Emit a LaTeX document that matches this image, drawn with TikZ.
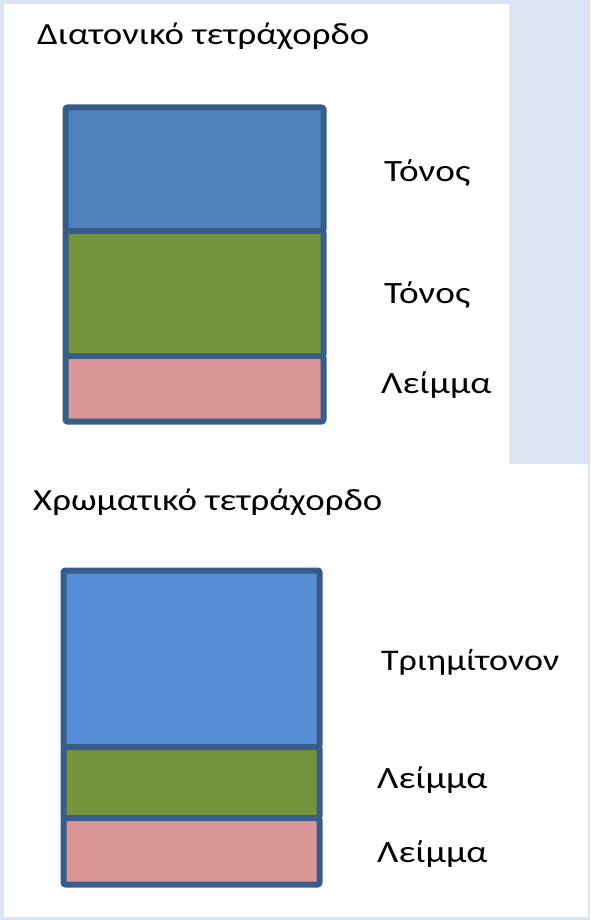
\documentclass[tikz,border=0pt]{standalone}
\usepackage{fontspec}
\setmainfont{Carlito}[FakeStretch=1.2]
\usetikzlibrary{positioning}
\definecolor{bgblue}{HTML}{DBE5F1}
\definecolor{edgeblue}{HTML}{385D8A}
\definecolor{tonblue}{HTML}{4F81BD}
\definecolor{triblue}{HTML}{558ED5}
\definecolor{tongreen}{HTML}{77933C}
\definecolor{leipink}{HTML}{D99694}
\tikzset{
    part/.style={rectangle,draw=edgeblue,line width=6pt,inner sep=0pt,outer sep=0pt,
        rounded corners=2pt},
    title/.style={anchor=base west,inner sep=0pt,font=\fontsize{30.7}{36}\selectfont},
    lbl/.style={anchor=base west,inner sep=0pt,font=\fontsize{31}{36}\selectfont}
}
\begin{document}
\begin{tikzpicture}[x=1pt,y=-1pt]
        \useasboundingbox (0,0) rectangle (590,920);
        \fill[bgblue] (0,0) rectangle (590,920);
        \fill[white] (4,4) rectangle (509,464);
        \fill[white] (4,464) rectangle (588,917);
        % diatonic
        \node[title] (dtitle) at (37,45) {Διατονικό τετράχορδο};
        \node[part,fill=tonblue,minimum width=258pt,minimum height=123.5pt,anchor=north west]
            (dton1) at (65.5,107.5) {};
        \node[part,fill=tongreen,minimum width=258pt,minimum height=125pt,below=0pt of dton1]
            (dton2) {};
        \node[part,fill=leipink,minimum width=258pt,minimum height=65.5pt,below=0pt of dton2]
            (dlei) {};
        \node[lbl] (ldton1) at (384,182) {Τόνος};
        \node[lbl] (ldton2) at (384,303) {Τόνος};
        \node[lbl] (ldlei) at (381,393) {Λείμμα};
        % chromatic
        \node[title] (ctitle) at (33,510) {Χρωματικό τετράχορδο};
        \node[part,fill=triblue,minimum width=256pt,minimum height=176.5pt,anchor=north west]
            (ctri) at (63.5,570.5) {};
        \node[part,fill=tongreen,minimum width=256pt,minimum height=71pt,below=0pt of ctri]
            (clei1) {};
        \node[part,fill=leipink,minimum width=256pt,minimum height=66.5pt,below=0pt of clei1]
            (clei2) {};
        \node[lbl,font=\fontsize{30}{36}\selectfont] (lctri) at (381,670) {Τριημίτονον};
        \node[lbl] (lclei1) at (377,788) {Λείμμα};
        \node[lbl] (lclei2) at (377,862) {Λείμμα};
    \end{tikzpicture}
\end{document}
